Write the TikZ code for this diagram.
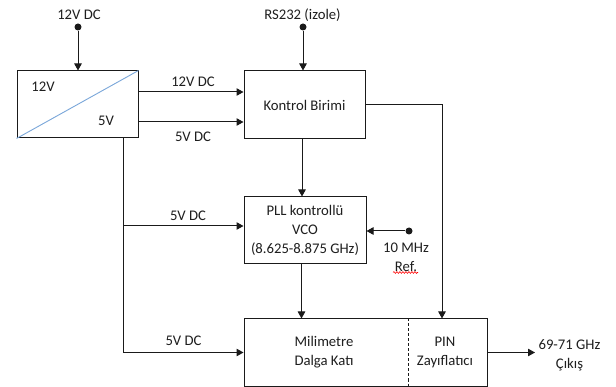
\documentclass[tikz,border=0pt]{standalone}
\usepackage{fontspec}
\setmainfont{Carlito}
\usetikzlibrary{arrows.meta,decorations.pathmorphing}
\definecolor{txt}{HTML}{1E1E1E}
\definecolor{ln}{HTML}{1A1A1A}
\definecolor{diag}{HTML}{7AA7DA}
\tikzset{
  box/.style={draw=ln,line width=1pt,fill=white,inner sep=0pt,align=center,text=txt},
  lbl/.style={inner sep=0pt,align=center,text=txt},
  arr/.style={draw=ln,line width=1pt,-{Triangle[length=7pt,width=7.5pt]}},
  wire/.style={draw=ln,line width=1pt},
  dotn/.style={circle,fill=ln,inner sep=0pt,minimum size=7pt},
}
\begin{document}
\begin{tikzpicture}[x=1pt,y=-1pt,font=\fontsize{14.7}{19}\selectfont]
\useasboundingbox (0,0) rectangle (616,387);
% boxes
\node[box,minimum width=121pt,minimum height=67pt] (conv) at (77.5,104.5) {};
\draw[diag,line width=0.9pt] (conv.south west) -- (conv.north east);
\node[lbl] (v12) at (43,87) {12V};
\node[lbl] (v5) at (106,121) {5V};
\node[box,minimum width=121pt,minimum height=68pt] (ctrl) at (304.5,105) {Kontrol Birimi};
\node[box,minimum width=122pt,minimum height=67pt] (pll) at (305,230.5) {PLL kontrollü\\VCO\\(8.625-8.875 GHz)};
\node[box,minimum width=243pt,minimum height=67pt] (mw) at (365.5,352.5) {};
\coordinate (div) at (408,352.5);
\draw[ln,line width=0.9pt,dash pattern=on 3pt off 2pt] (div |- mw.north) -- (div |- mw.south);
\node[lbl] (mwt) at (324,352.5) {Milimetre\\Dalga Katı};
\node[lbl] (pint) at (445,352.5) {PIN\\Zayıflatıcı};
% inputs
\node[dotn] (in12) at (78,27) {};
\node[lbl] (in12l) at (79,15) {12V DC};
\draw[arr] (in12) -- (in12 |- conv.north);
\node[dotn] (rs) at (303,27) {};
\node[lbl] (rsl) at (302.5,15) {RS232 (izole)};
\draw[arr] (rs) -- (rs |- ctrl.north);
% converter to control
\draw[arr] ([yshift=12.5pt]conv.east) -- ([yshift=12.5pt]conv.east -| ctrl.west);
\node[lbl] (l12) at (193,82) {12V DC};
\draw[arr] ([yshift=-17.5pt]conv.east) -- ([yshift=-17.5pt]conv.east -| ctrl.west);
\node[lbl] (l5a) at (193,137) {5V DC};
% control to pll
\draw[arr] ([xshift=-2.5pt]ctrl.south) -- ([xshift=-2.5pt]ctrl.south |- pll.north);
% control to PIN
\draw[arr] (ctrl.east) -| ([xshift=34pt]div |- mw.north);
% pll to mw
\draw[arr] ([xshift=-3.5pt]pll.south) -- ([xshift=-3.5pt]pll.south |- mw.north);
% 5V bus
\draw[arr] ([xshift=45.5pt]conv.south) |- (mw.west);
\draw[arr] ([xshift=45.5pt]conv.south |- pll.west) ++(0,-4.5) -- ([yshift=4.5pt]pll.west);
\node[lbl] (l5b) at (188,216) {5V DC};
\node[lbl] (l5c) at (183.5,341) {5V DC};
% reference
\node[dotn] (ref) at (409,231) {};
\draw[arr] (ref) -- (ref -| pll.east);
\node[lbl] (refl) at (406,257.5) {10 MHz\\Ref.};
\draw[red,line width=0.6pt,decorate,decoration={snake,amplitude=0.9pt,segment length=3pt}] (393,272.5) -- (418,272.5);
% output
\coordinate (out) at (535,352.5);
\draw[arr] (mw.east) -- (out);
\node[lbl] (outl) at (569.5,355) {69-71 GHz\\Çıkış};
\end{tikzpicture}
\end{document}
